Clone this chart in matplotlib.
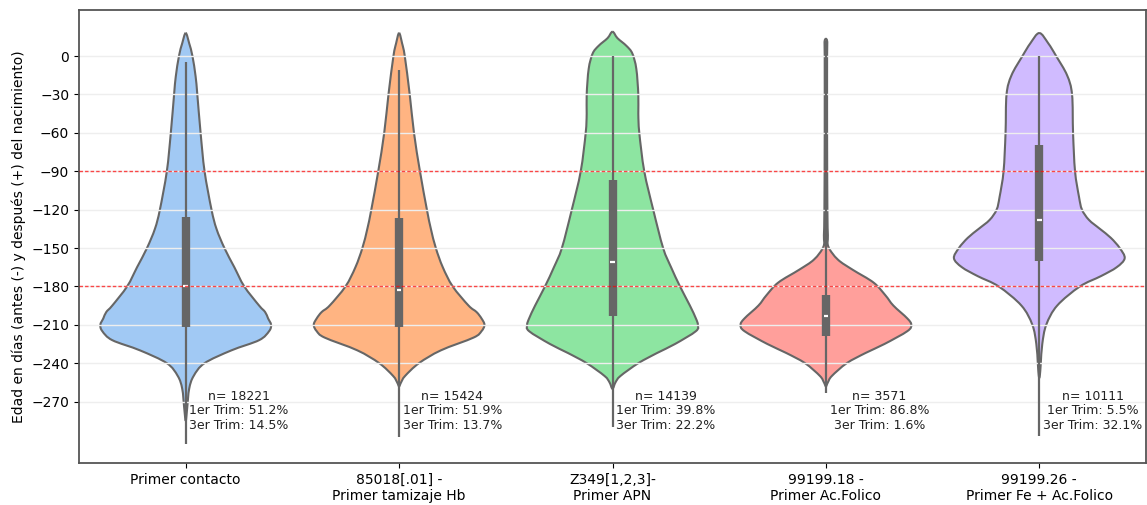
import numpy as np
import matplotlib.pyplot as plt
from matplotlib.path import Path
from matplotlib.patches import PathPatch

# Categories and colors (seaborn pastel)
labels = ['Primer contacto', '85018[.01] -\nPrimer tamizaje Hb', 'Z349[1,2,3]-\nPrimer APN',
          '99199.18 -\nPrimer Ac.Folico', '99199.26 -\nPrimer Fe + Ac.Folico']
colors = ['#a1c9f4', '#ffb482', '#8de5a1', '#ff9f9b', '#d0bbff']

# Violin outlines: y (days) and half-width (pixels, widest = 86)
prof_y = [
    [18, 10, 0, -16, -30, -60, -90, -120, -135, -150, -165, -180, -195, -200, -205, -210, -215,
     -222, -230, -240, -250, -260, -275, -285],
    [18, 10, 0, -30, -60, -90, -120, -135, -150, -165, -180, -195, -200, -205, -210, -215, -220,
     -230, -240, -250, -255, -258],
    [19, 14, 8, 2, -10, -30, -45, -60, -90, -120, -150, -165, -180, -195, -205, -210, -215, -225,
     -232, -240, -250, -255, -260],
    [12, 0, -60, -120, -140, -149, -159, -167, -177, -187, -195, -205, -210, -215, -225, -232,
     -240, -250, -255, -258],
    [18, 10, 0, -15, -30, -60, -90, -110, -120, -128, -135, -142, -150, -158, -165, -172, -180,
     -195, -210, -225, -240, -250],
]
prof_w = [
    [0, 3.5, 6.8, 10, 11.7, 15, 19, 26, 31, 39, 49, 59, 74, 80, 83, 86, 84, 74, 46, 19, 8, 3.5, 1.5, 0],
    [0, 3, 5.7, 10.7, 15, 21, 28, 32, 37, 44, 54, 70, 78, 83, 86, 83, 75, 42, 20, 6, 2, 0],
    [0, 5, 14, 20, 24, 26, 26, 27, 32, 41, 51, 59, 68, 78, 84, 86, 84, 63, 45, 26, 8, 3, 0],
    [1.2, 1.2, 1.2, 1.5, 2, 2.5, 12, 27, 48, 60, 68, 82, 86, 82, 59, 40, 21, 6, 2, 0],
    [0, 9, 17, 28, 33, 34, 36, 40, 43, 50, 61, 72, 81, 86, 78, 62, 41, 18, 7, 3, 1.5, 0.5],
]

# Box statistics: Q3, median, Q1, upper whisker, lower whisker
q3 = [-125.6, -126.7, -96.8, -186.5, -69.5]
med = [-180, -182.6, -161, -203.4, -128]
q1 = [-212, -212, -203, -219, -160.5]
whi = [-4.5, -11, 0, 12, 0]
wlo = [-303, -298, -290, -263, -297]

# Annotations
n_vals = [18221, 15424, 14139, 3571, 10111]
trim1 = [51.2, 51.9, 39.8, 86.8, 5.5]
trim3 = [14.5, 13.7, 22.2, 1.6, 32.1]


def violin_path(xc, ys, ws):
    # closed outline: right side downwards, left side back up, drawn as smooth Bezier curves
    ws = np.array(ws) / 86 * 0.4
    pts = [(xc + w, y) for y, w in zip(ys, ws)]
    left = [(xc - w, y) for y, w in zip(ys, ws)]
    if ws[-1] == 0:
        left = left[:-1]
    left = left[::-1]
    if ws[0] == 0:
        left = left[:-1]
    pts = np.array(pts + left)
    n = len(pts)
    verts = [pts[0]]
    codes = [Path.MOVETO]
    for k in range(n):
        p0, p1, p2, p3 = pts[k - 1], pts[k], pts[(k + 1) % n], pts[(k + 2) % n]
        verts += [p1 + (p2 - p0) / 6, p2 - (p3 - p1) / 6, p2]
        codes += [Path.CURVE4] * 3
    return Path(verts, codes)


fig = plt.figure(figsize=(11.47, 5.05), dpi=100)
ax = fig.add_axes([79 / 1147, 42 / 505, 1067 / 1147, 453 / 505])

line_col = '#666666'
for i in range(len(labels)):
    ax.add_patch(PathPatch(violin_path(i, prof_y[i], prof_w[i]), facecolor=colors[i],
                           edgecolor=line_col, lw=1.5, zorder=1))
    ax.vlines(i, wlo[i], whi[i], color=line_col, lw=1.6, zorder=2)
    ax.vlines(i, q1[i], q3[i], color=line_col, lw=6, zorder=2)
    ax.hlines(med[i], i - 0.011, i + 0.011, color='white', lw=1.6, zorder=3)
    ax.text(i + 0.25, -277, f'n= {n_vals[i]}\n1er Trim: {trim1[i]}%\n3er Trim: {trim3[i]}%',
            ha='center', va='center', fontsize=9, color='#222222', linespacing=1.15, zorder=4)

ax.axhline(-90, color='red', ls=(0, (2.5, 1.5)), lw=1, alpha=0.7, zorder=3)
ax.axhline(-180, color='red', ls=(0, (2.5, 1.5)), lw=1, alpha=0.7, zorder=3)

ax.set_xlim(-0.5, 4.5)
ax.set_ylim(-318, 36)
ax.set_yticks(np.arange(0, -271, -30))
ax.set_xticks(range(len(labels)))
ax.set_xticklabels(labels, fontsize=10)
ax.tick_params(axis='y', labelsize=10)
ax.set_ylabel('Edad en días (antes (-) y después (+) del nacimiento)', fontsize=10)
ax.set_axisbelow('line')
ax.yaxis.grid(True, color='#eeeeee', lw=1)
for s in ax.spines.values():
    s.set_color('#555555')
    s.set_linewidth(1.3)

fig.savefig('out.png', dpi=100)
